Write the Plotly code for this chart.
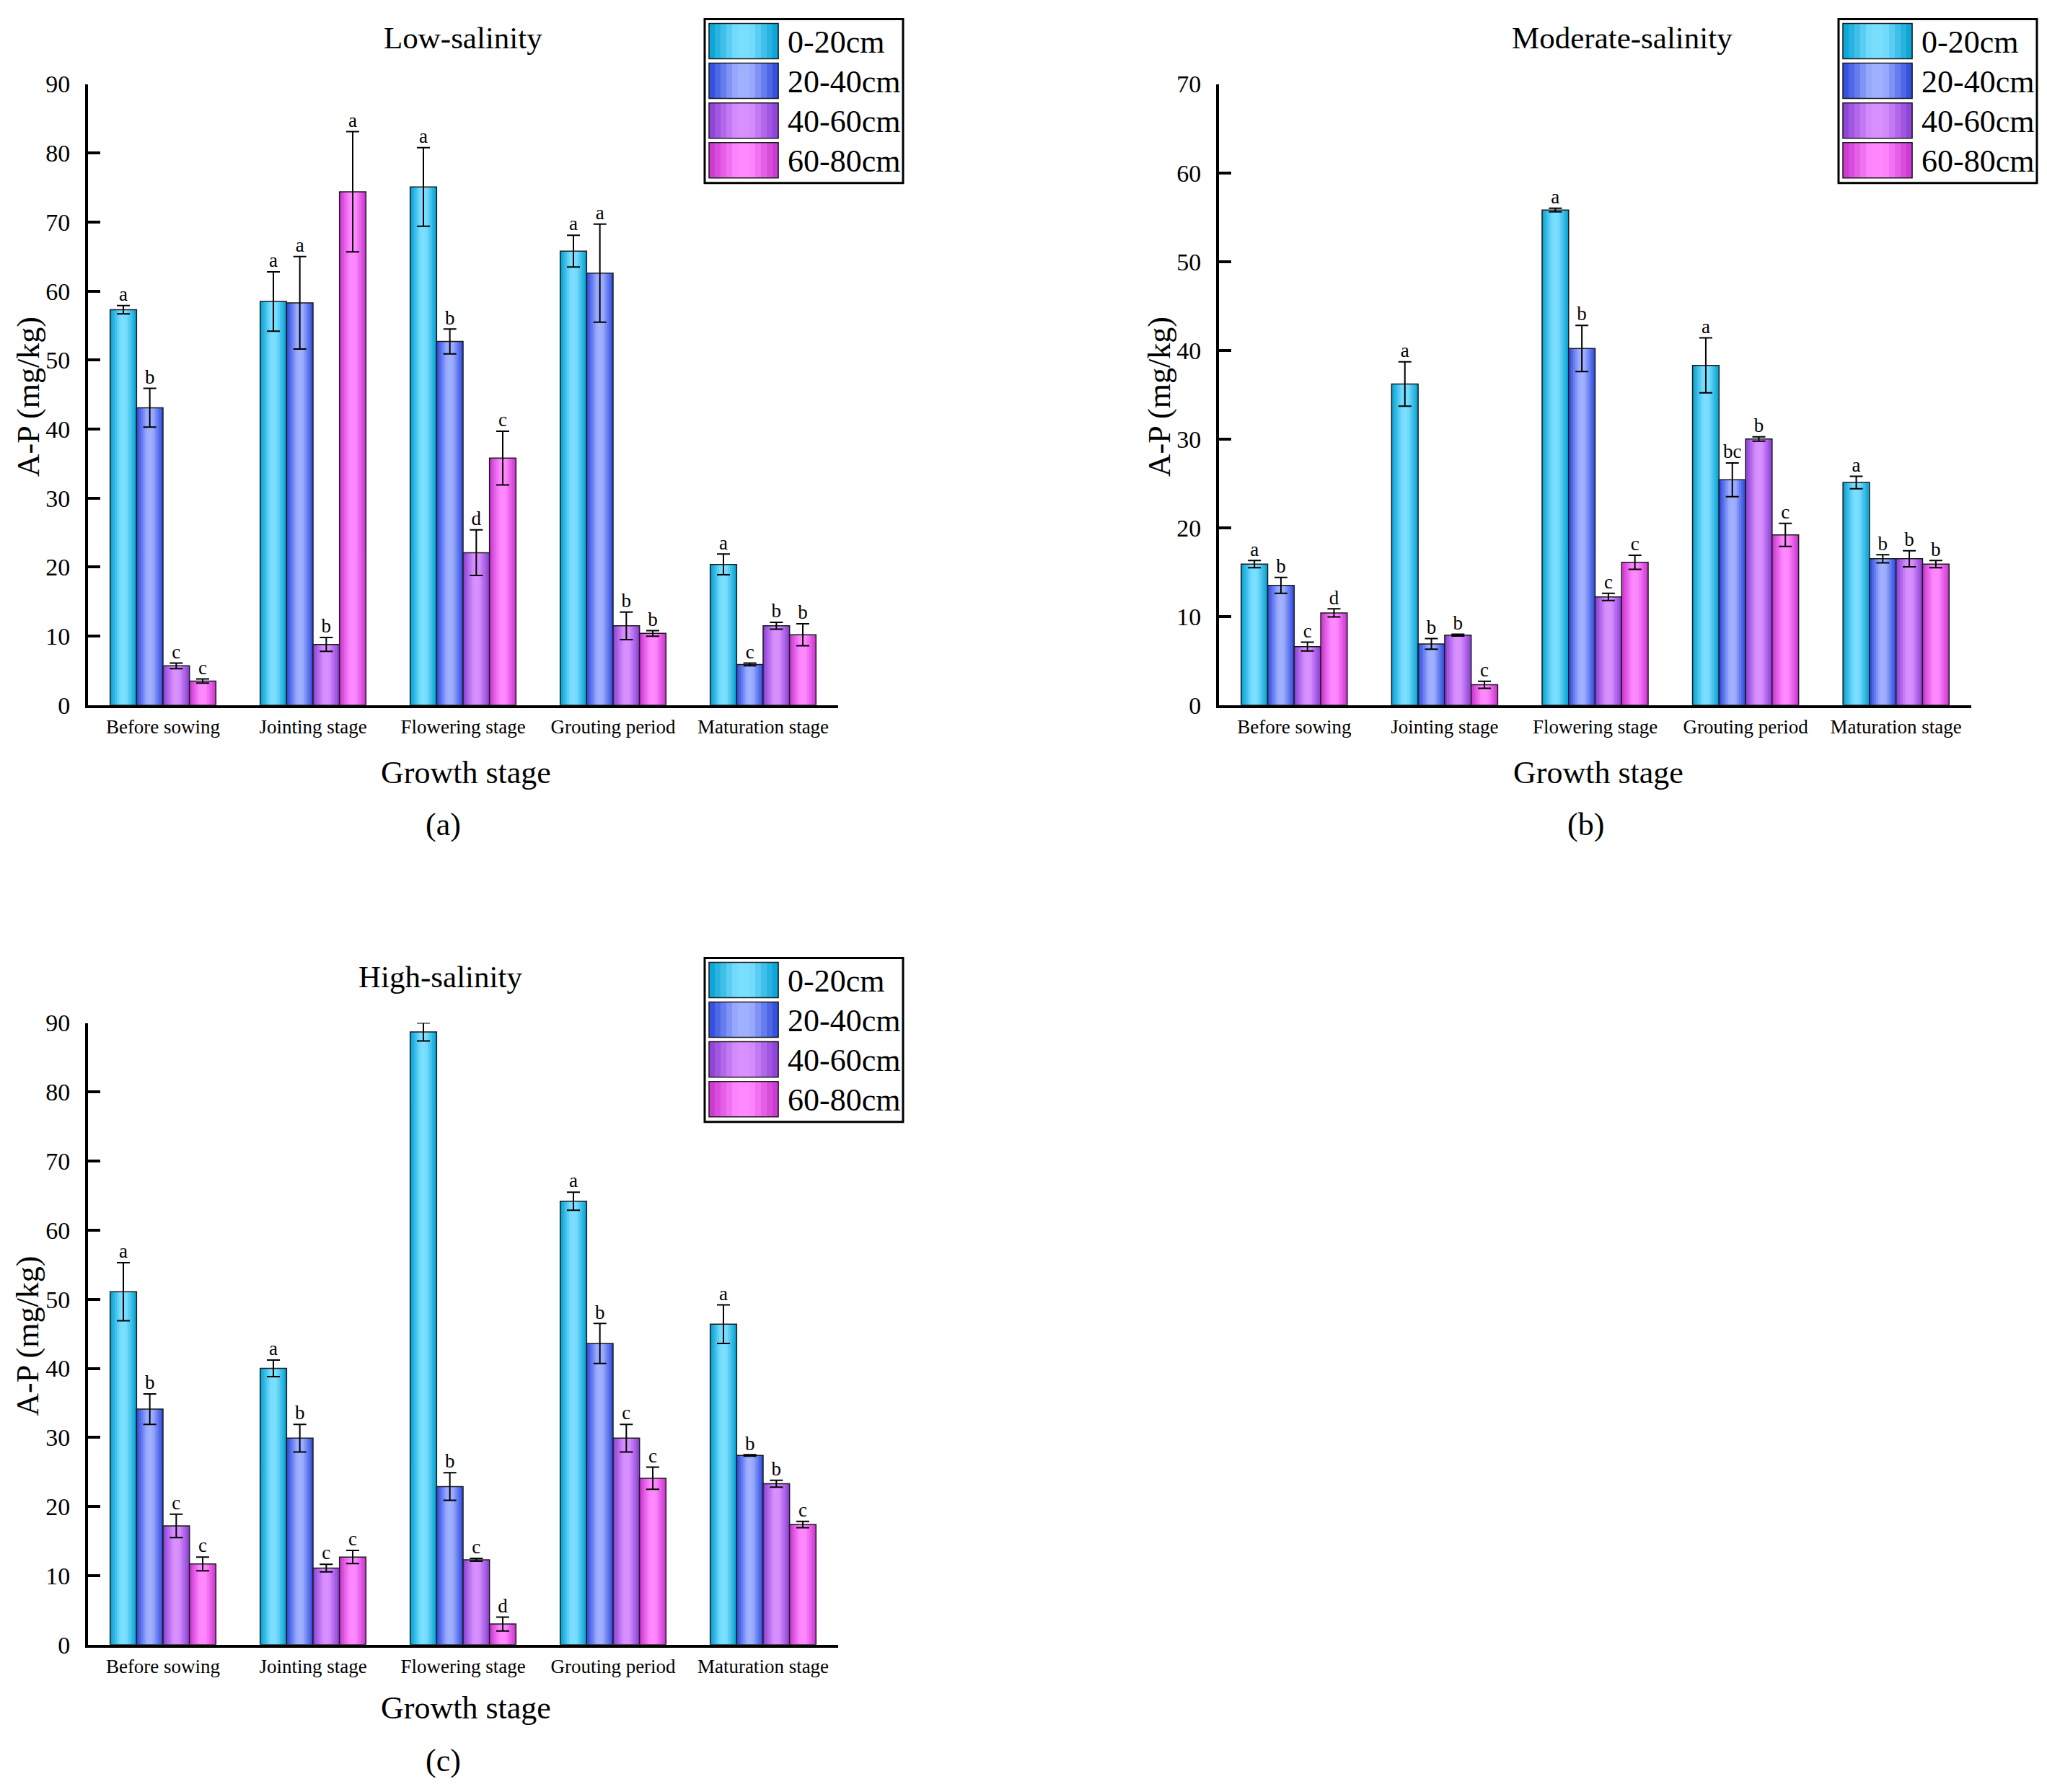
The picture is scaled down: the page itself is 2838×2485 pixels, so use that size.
import plotly.graph_objects as go

W, H = 2838, 2485
PAD = 8  # default page margin around the plot div
FW, FH = W - 2 * PAD, H + 4
# the photographed page comes out slightly squeezed and pushed down,
# so vertical positions are stretched back to land where the reference has them
Y_SCALE, Y_SHIFT = 1.0166, -20.0

stages = ["Before sowing", "Jointing stage", "Flowering stage", "Grouting period", "Maturation stage"]
depths = ["0-20cm", "20-40cm", "40-60cm", "60-80cm"]

# A-P (mg/kg), one list per depth, values in stage order
low_mean = [
    [57.3, 58.5, 75.1, 65.8, 20.4],
    [43.1, 58.3, 52.7, 62.6, 5.9],
    [5.7, 8.8, 22.1, 11.5, 11.5],
    [3.5, 74.4, 35.8, 10.4, 10.2],
]
low_err = [
    [0.6, 4.3, 5.7, 2.3, 1.5],
    [2.8, 6.7, 1.8, 7.1, 0.2],
    [0.4, 1.0, 3.3, 2.0, 0.5],
    [0.3, 8.7, 3.9, 0.4, 1.6],
]
low_sig = [
    ["a", "a", "a", "a", "a"],
    ["b", "a", "b", "a", "c"],
    ["c", "b", "d", "b", "b"],
    ["c", "a", "c", "b", "b"],
]

mod_mean = [
    [15.9, 36.2, 55.8, 38.3, 25.1],
    [13.5, 6.9, 40.2, 25.4, 16.5],
    [6.6, 7.9, 12.2, 30.0, 16.5],
    [10.4, 2.3, 16.1, 19.2, 15.9],
]
mod_err = [
    [0.4, 2.5, 0.2, 3.1, 0.7],
    [0.9, 0.6, 2.6, 1.9, 0.45],
    [0.5, 0.1, 0.4, 0.25, 0.9],
    [0.45, 0.4, 0.8, 1.3, 0.4],
]
mod_sig = [
    ["a", "a", "a", "a", "a"],
    ["b", "b", "b", "bc", "b"],
    ["c", "b", "c", "b", "b"],
    ["d", "c", "c", "c", "b"],
]

high_mean = [
    [51.1, 40.0, 88.7, 64.2, 46.4],
    [34.1, 29.9, 22.9, 43.6, 27.4],
    [17.2, 11.1, 12.3, 29.9, 23.3],
    [11.7, 12.7, 3.0, 24.1, 17.4],
]
high_err = [
    [4.2, 1.2, 1.3, 1.3, 2.8],
    [2.2, 2.0, 2.0, 2.9, 0.1],
    [1.7, 0.55, 0.2, 2.0, 0.5],
    [1.0, 0.95, 1.0, 1.6, 0.45],
]
high_sig = [
    ["a", "a", "a", "a", "a"],
    ["b", "b", "b", "b", "b"],
    ["c", "c", "c", "c", "b"],
    ["c", "c", "d", "c", "c"],
]

# dark edge / light centre of each cylinder-like bar
dark = [(0, 160, 210), (40, 70, 220), (135, 60, 210), (200, 50, 205)]
light = [(122, 222, 255), (160, 176, 255), (216, 144, 255), (255, 136, 255)]

FONT = "Liberation Serif, Times New Roman, serif"
N_STRIP = 12
GROUP = 0.705
BW = GROUP / len(depths)


def shade(j, t):
    if t < 0.4:
        f = t / 0.4
    elif t < 0.6:
        f = 1.0
    else:
        f = (1.0 - t) / 0.4
    c = [round(d + (l - d) * f) for d, l in zip(dark[j], light[j])]
    return "rgb(%d,%d,%d)" % tuple(c)


def px(x):
    return (x - PAD) / FW


def py(y):
    return 1 - (Y_SCALE * y + Y_SHIFT - PAD) / FH


def note(text, x, y, size, **kw):
    d = dict(text=text, x=px(x), y=py(y), xref="paper", yref="paper", showarrow=False,
             xanchor="center", yanchor="middle", font=dict(family=FONT, size=size, color="black"))
    d.update(kw)
    return d


panels = [
    # title, data, axis suffix, pixel box (left, top, right, bottom), ymax, legend origin,
    # title x, tag x, tag, extra drop below the axis for the texts underneath
    ("Low-salinity", low_mean, low_err, low_sig, "", (122, 118, 1162, 978), 90, (977, 28), 642, 614, "(a)", 0),
    ("Moderate-salinity", mod_mean, mod_err, mod_sig, "2", (1690, 118, 2733, 978), 70, (2549, 28), 2249, 2198, "(b)", 0),
    ("High-salinity", high_mean, high_err, high_sig, "3", (122, 1418, 1162, 2279), 90, (977, 1328), 610, 614, "(c)", -5),
]

fig = go.Figure()
shapes = []
annotations = []
x_idx = list(range(len(stages)))
sw = BW / N_STRIP

for title, mean, err, sig, sfx, box, ymax, lg, tx, lx, tag, drop in panels:
    xa, ya = "x" + sfx, "y" + sfx
    for j in range(len(depths)):
        left = -GROUP / 2 + j * BW
        for k in range(N_STRIP):
            fig.add_trace(go.Bar(
                x=x_idx, y=mean[j], xaxis=xa, yaxis=ya,
                offset=left + k * sw, width=sw * (1.25 if k < N_STRIP - 1 else 1.0),
                marker=dict(color=shade(j, (k + 0.5) / N_STRIP), line=dict(width=0)),
                showlegend=False, hoverinfo="skip"))
        fig.add_trace(go.Bar(
            x=x_idx, y=mean[j], xaxis=xa, yaxis=ya, offset=left, width=BW,
            marker=dict(color="rgba(0,0,0,0)", line=dict(color="#1a1a1a", width=1.5)),
            error_y=dict(type="data", array=err[j], color="black", thickness=2, width=9),
            name=depths[j], showlegend=False))
        fig.add_trace(go.Scatter(
            x=[i + left + BW / 2 for i in x_idx],
            y=[m + e for m, e in zip(mean[j], err[j])],
            xaxis=xa, yaxis=ya, mode="text", text=sig[j], textposition="top center",
            textfont=dict(family=FONT, size=27, color="black"),
            showlegend=False, hoverinfo="skip"))

    l, t, r, b = box
    fig.update_layout({
        "xaxis" + sfx: dict(domain=[px(l), px(r)], anchor=ya, range=[-0.5, len(stages) - 0.5],
                            tickvals=x_idx, ticktext=stages, ticks="", showline=True,
                            linewidth=4, linecolor="black", showgrid=False, zeroline=False,
                            tickfont=dict(family=FONT, size=27, color="black"),
                            ticklabelstandoff=3),
        "yaxis" + sfx: dict(domain=[py(b), py(t)], anchor=xa, range=[0, ymax], dtick=10,
                            ticks="inside", ticklen=17, tickwidth=4, tickcolor="black",
                            showline=True, linewidth=4, linecolor="black", showgrid=False,
                            zeroline=False, tickfont=dict(family=FONT, size=34, color="black"),
                            ticklabelstandoff=14),
    })

    annotations.append(note(title, tx, t - 64, 43))
    annotations.append(note("Growth stage", (l + r) / 2 + 4, b + 93 + drop, 44))
    annotations.append(note(tag, lx, b + 165 + drop, 44))
    annotations.append(note("A-P (mg/kg)", l - 83, (t + b) / 2 + 3, 44, textangle=-90))

    # legend drawn by hand so the swatches can carry the bar gradient
    lx0, ly0 = lg
    shapes.append(dict(type="rect", xref="paper", yref="paper", x0=px(lx0), x1=px(lx0 + 275),
                       y0=py(ly0), y1=py(ly0 + 227), line=dict(color="black", width=3),
                       fillcolor="white", layer="below"))
    for j, name in enumerate(depths):
        top = ly0 + 6 + j * 55
        sx = lx0 + 6
        swx = 96 / N_STRIP
        for k in range(N_STRIP):
            shapes.append(dict(type="rect", xref="paper", yref="paper",
                               x0=px(sx + k * swx), x1=px(sx + (k + 1) * swx + 0.6),
                               y0=py(top), y1=py(top + 49), line=dict(width=0),
                               fillcolor=shade(j, (k + 0.5) / N_STRIP)))
        shapes.append(dict(type="rect", xref="paper", yref="paper", x0=px(sx), x1=px(sx + 96),
                           y0=py(top), y1=py(top + 49), line=dict(color="#1a1a1a", width=1.5)))
        annotations.append(note(name, lx0 + 113, top + 26, 44, xanchor="left"))

fig.update_layout(
    width=FW, height=FH, margin=dict(l=0, r=0, t=0, b=0),
    paper_bgcolor="white", plot_bgcolor="white", barmode="overlay",
    showlegend=False, shapes=shapes, annotations=annotations,
    font=dict(family=FONT, color="black"),
)

fig.write_html("out.html")
